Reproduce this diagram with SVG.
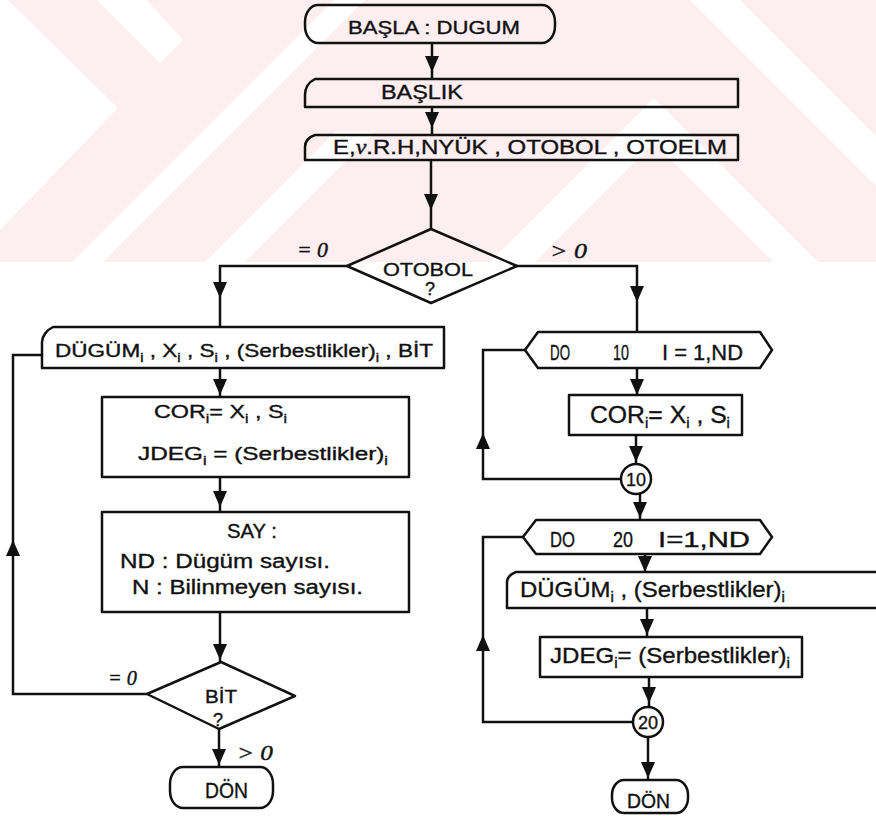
<svg xmlns="http://www.w3.org/2000/svg" width="876" height="816" viewBox="0 0 876 816">
  <style>
    .bg { fill: #fdeef1; }
    .bgw { fill: #ffffff; }
    .node { fill: none; stroke: #111; stroke-width: 2.5; stroke-linejoin: round; }
    .wire { fill: none; stroke: #111; stroke-width: 2.5; }
    .head { fill: #111; stroke: none; }
    .t { font-family: "Liberation Sans", Arial, sans-serif; fill: #111; stroke: #111; stroke-width: 0.35px; }
    .f18 { font-size: 18px; }
    .f20 { font-size: 20px; }
    .f22 { font-size: 22px; }
    .f23 { font-size: 23px; }
    .s { font-size: 12px; }
    .sl { font-size: 14px; }
    .lab { font-family: "Liberation Serif", "Times New Roman", serif; font-style: italic; font-size: 21px; fill: #111; stroke: #111; stroke-width: 0.4px; }
    .nu { font-family: "Liberation Serif", "Times New Roman", serif; font-style: italic; }
  </style>
  <defs>
    <!-- filled arrowhead, tip at the origin, pointing down -->
    <path id="ah" class="head" d="M-7,-16 L7,-16 L0,0 Z"/>
  </defs>

  <rect width="876" height="816" fill="#ffffff"/>

  <!-- faint background pattern across the top band -->
  <g id="background-pattern">
    <rect class="bg" x="0" y="0" width="876" height="262"/>
    <polygon class="bgw" points="0,0 8,0 118,108 0,230"/>
    <polygon class="bgw" points="97,0 147,0 183,40 160,63"/>
    <polygon class="bgw" points="72,262 103,262 365,0 334,0"/>
    <polygon class="bgw" points="205,262 245,262 375,132 335,132"/>
    <polygon class="bgw" points="490,262 654,98 818,262 773,262 654,143 535,262"/>
    <polygon class="bgw" points="690,0 740,0 876,136 876,186"/>
  </g>

  <!-- connectors -->
  <g id="connectors">
    <path class="wire" d="M432,43 V79"/>
    <path class="wire" d="M432,107 V135"/>
    <path class="wire" d="M431,160 V229"/>
    <path class="wire" d="M347,266 H220 V327"/>
    <path class="wire" d="M517,266 H637 V332"/>
    <path class="wire" d="M220,368 V397"/>
    <path class="wire" d="M220,477 V512"/>
    <path class="wire" d="M220,612 V662"/>
    <path class="wire" d="M219,729 V767"/>
    <path class="wire" d="M147,694 H13 V355 H42"/>
    <path class="wire" d="M637,368 V395"/>
    <path class="wire" d="M636,435 V464"/>
    <path class="wire" d="M525,350 H483 V479 H621"/>
    <path class="wire" d="M640,494 V520"/>
    <path class="wire" d="M523,537 H483 V722 H633"/>
    <path class="wire" d="M645,554 V572"/>
    <path class="wire" d="M647,608 V637"/>
    <path class="wire" d="M649,677 V707"/>
    <path class="wire" d="M648,737 V780"/>

    <use href="#ah" x="432" y="72"/>
    <use href="#ah" x="432" y="128"/>
    <use href="#ah" x="431" y="210"/>
    <use href="#ah" x="220" y="298"/>
    <use href="#ah" x="637" y="302"/>
    <use href="#ah" x="220" y="395"/>
    <use href="#ah" x="220" y="507"/>
    <use href="#ah" x="220" y="660"/>
    <use href="#ah" x="219" y="765"/>
    <use href="#ah" transform="translate(13,540) rotate(180)"/>
    <use href="#ah" x="637" y="395"/>
    <use href="#ah" x="636" y="462"/>
    <use href="#ah" transform="translate(483,433) rotate(180)"/>
    <use href="#ah" x="640" y="518"/>
    <use href="#ah" x="645" y="572"/>
    <use href="#ah" x="647" y="635"/>
    <use href="#ah" x="649" y="703"/>
    <use href="#ah" transform="translate(483,635) rotate(180)"/>
    <use href="#ah" x="648" y="778"/>

    <text class="lab" x="297" y="257" textLength="31" lengthAdjust="spacingAndGlyphs">= 0</text>
    <text class="lab" x="550" y="258" textLength="37" lengthAdjust="spacingAndGlyphs">&gt; 0</text>
    <text class="lab" x="108" y="685" textLength="29" lengthAdjust="spacingAndGlyphs">= 0</text>
    <text class="lab" x="237" y="760" textLength="36" lengthAdjust="spacingAndGlyphs">&gt; 0</text>
  </g>

  <!-- main column -->
  <g id="start">
    <rect class="node" x="305" y="5" width="250" height="38" rx="13" ry="17"/>
    <text class="t f18" x="348" y="34" textLength="172" lengthAdjust="spacingAndGlyphs">BAŞLA : DUGUM</text>
  </g>

  <g id="baslik">
    <path class="node" d="M305,107 V95 C305,88 309,82 315,79 H738 V107 Z"/>
    <text class="t f20" x="381" y="99" textLength="82" lengthAdjust="spacingAndGlyphs">BAŞLIK</text>
  </g>

  <g id="input-params">
    <path class="node" d="M305,160 V147 C305,141 309,137 315,135 H738 V160 Z"/>
    <text class="t f20" x="333" y="154" textLength="394" lengthAdjust="spacingAndGlyphs">E,<tspan class="nu">ν</tspan>.R.H,NYÜK , OTOBOL , OTOELM</text>
  </g>

  <g id="otobol">
    <polygon class="node" points="431,229 517,266 431,303 347,266"/>
    <text class="t f18" x="383" y="276" textLength="90" lengthAdjust="spacingAndGlyphs">OTOBOL</text>
    <text class="t f18" x="430" y="295" text-anchor="middle">?</text>
  </g>

  <!-- left branch: nodes read one by one -->
  <g id="read-node">
    <path class="node" d="M42,368 V342 C42,336 47,330 53,327 H444 V368 Z"/>
    <text class="t f18" x="55" y="357" textLength="378" lengthAdjust="spacingAndGlyphs">DÜGÜM<tspan class="s" dy="5">i</tspan><tspan dy="-5"> , X</tspan><tspan class="s" dy="5">i</tspan><tspan dy="-5"> , S</tspan><tspan class="s" dy="5">i</tspan><tspan dy="-5"> , (Serbestlikler)</tspan><tspan class="s" dy="5">i</tspan><tspan dy="-5"> , BİT</tspan></text>
  </g>

  <g id="store-left">
    <rect class="node" x="102" y="397" width="307" height="80"/>
    <text class="t f18" x="154" y="418" textLength="133" lengthAdjust="spacingAndGlyphs">COR<tspan class="s" dy="5">i</tspan><tspan dy="-5">= X</tspan><tspan class="s" dy="5">i</tspan><tspan dy="-5"> , S</tspan><tspan class="s" dy="5">i</tspan></text>
    <text class="t f18" x="138" y="460" textLength="250" lengthAdjust="spacingAndGlyphs">JDEG<tspan class="s" dy="5">i</tspan><tspan dy="-5"> = (Serbestlikler)</tspan><tspan class="s" dy="5">i</tspan></text>
  </g>

  <g id="count">
    <rect class="node" x="102" y="512" width="307" height="100"/>
    <text class="t f20" x="227" y="538" textLength="50" lengthAdjust="spacingAndGlyphs">SAY :</text>
    <text class="t f20" x="120" y="568" textLength="210" lengthAdjust="spacingAndGlyphs">ND : Dügüm sayısı.</text>
    <text class="t f20" x="132" y="594" textLength="231" lengthAdjust="spacingAndGlyphs">N : Bilinmeyen sayısı.</text>
  </g>

  <g id="bit">
    <polygon class="node" points="221,662 295,696 219,729 147,694"/>
    <text class="t f18" x="205" y="703" textLength="32" lengthAdjust="spacingAndGlyphs">BİT</text>
    <text class="t f18" x="218" y="726" text-anchor="middle">?</text>
  </g>

  <g id="return-left">
    <rect class="node" x="170" y="767" width="103" height="41" rx="13" ry="17"/>
    <text class="t f22" x="205" y="798" textLength="43" lengthAdjust="spacingAndGlyphs">DÖN</text>
  </g>

  <!-- right branch: generated nodes -->
  <g id="do10">
    <polygon class="node" points="525,350 538,332 760,332 772,350 760,368 538,368"/>
    <text class="t f22" x="550" y="360" textLength="20" lengthAdjust="spacingAndGlyphs">DO</text>
    <text class="t f22" x="613" y="360" textLength="16" lengthAdjust="spacingAndGlyphs">10</text>
    <text class="t f22" x="662" y="360" textLength="81" lengthAdjust="spacingAndGlyphs">I = 1,ND</text>
  </g>

  <g id="store-right">
    <rect class="node" x="569" y="395" width="173" height="40"/>
    <text class="t f23" x="590" y="423" textLength="140" lengthAdjust="spacingAndGlyphs">COR<tspan class="sl" dy="5">i</tspan><tspan dy="-5">=  X</tspan><tspan class="sl" dy="5">i</tspan><tspan dy="-5"> , S</tspan><tspan class="sl" dy="5">i</tspan></text>
  </g>

  <g id="loop10">
    <circle class="node" cx="636" cy="479" r="15"/>
    <text class="t f18" x="636" y="486" text-anchor="middle">10</text>
  </g>

  <g id="do20">
    <polygon class="node" points="523,537 536,520 760,520 772,537 760,554 536,554"/>
    <text class="t f22" x="550" y="547" textLength="25" lengthAdjust="spacingAndGlyphs">DO</text>
    <text class="t f22" x="613" y="547" textLength="20" lengthAdjust="spacingAndGlyphs">20</text>
    <text class="t f22" x="658" y="547" textLength="92" lengthAdjust="spacingAndGlyphs">I=1,ND</text>
  </g>

  <g id="read-dof">
    <path class="node" d="M507,608 V582 C507,577 511,574 516,572 H880 V608 Z"/>
    <text class="t f22" x="520" y="597" textLength="265" lengthAdjust="spacingAndGlyphs">DÜGÜM<tspan class="sl" dy="5">i</tspan><tspan dy="-5"> , (Serbestlikler)</tspan><tspan class="sl" dy="5">i</tspan></text>
  </g>

  <g id="store-dof">
    <rect class="node" x="540" y="637" width="262" height="40"/>
    <text class="t f22" x="550" y="663" textLength="240" lengthAdjust="spacingAndGlyphs">JDEG<tspan class="sl" dy="5">i</tspan><tspan dy="-5">= (Serbestlikler)</tspan><tspan class="sl" dy="5">i</tspan></text>
  </g>

  <g id="loop20">
    <circle class="node" cx="648" cy="722" r="15"/>
    <text class="t f18" x="648" y="729" text-anchor="middle">20</text>
  </g>

  <g id="return-right">
    <rect class="node" x="612" y="780" width="76" height="33" rx="12" ry="15"/>
    <text class="t f20" x="627" y="808" textLength="43" lengthAdjust="spacingAndGlyphs">DÖN</text>
  </g>
</svg>
